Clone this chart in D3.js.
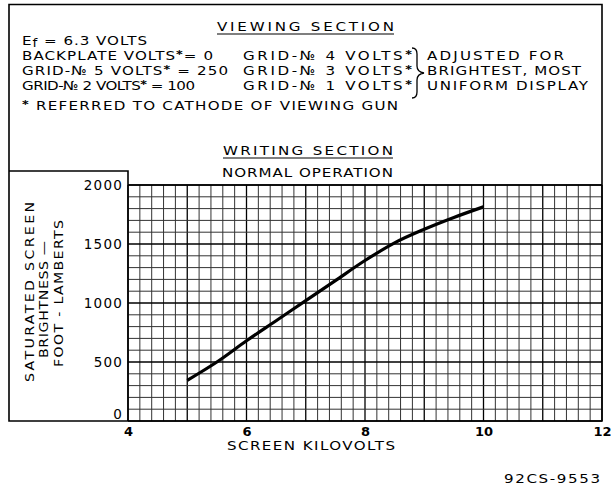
<!DOCTYPE html>
<html>
<head>
<meta charset="utf-8">
<script src="https://cdn.jsdelivr.net/npm/d3@7"></script>
<style>
  html, body { margin: 0; padding: 0; background: #fff; }
  svg { display: block; }
  text { font-family: "DejaVu Sans", sans-serif; fill: #000; }
</style>
</head>
<body>
<div id="chart"></div>
<script>
// screen kilovolts vs saturated screen brightness (foot-lamberts)
const kilovolts = [5.0, 5.5, 6.0, 6.5, 7.0, 7.5, 8.0, 8.5, 9.0, 9.5, 10.0];
const brightness = [345, 500, 680, 850, 1020, 1190, 1360, 1510, 1625, 1725, 1815];

const xTicks = [4, 6, 8, 10, 12];
const yTicks = [0, 500, 1000, 1500, 2000];

const W = 611, H = 488;
const plot = { left: 128, right: 602, top: 185, bottom: 421 };
const WIDE = 1.18; // lettering is wider than DejaVu, stretch it a bit

const svg = d3.select('#chart').append('svg')
    .attr('width', W)
    .attr('height', H);

const x = d3.scaleLinear().domain([4, 12]).range([plot.left, plot.right]);
const y = d3.scaleLinear().domain([0, 2000]).range([plot.bottom, plot.top]);

// grid: minor every 0.2 kV / 100 fL, heavier every 1 kV / 500 fL
const grid = svg.append('g').attr('class', 'grid');
d3.range(4, 12.001, 0.2).forEach(v => {
    const major = Math.abs(v - Math.round(v)) < 1e-6;
    grid.append('line')
        .attr('x1', x(v)).attr('x2', x(v))
        .attr('y1', plot.top).attr('y2', plot.bottom)
        .attr('stroke', major ? '#000' : '#333')
        .attr('stroke-width', major ? 1.3 : 1);
});
d3.range(0, 2001, 100).forEach(v => {
    const major = v % 500 === 0;
    grid.append('line')
        .attr('x1', plot.left).attr('x2', plot.right)
        .attr('y1', y(v)).attr('y2', y(v))
        .attr('stroke', major ? '#000' : '#333')
        .attr('stroke-width', major ? 1.3 : 1);
});

// frame around the whole drawing, plus the box for the y label
const frame = svg.append('g').attr('fill', 'none').attr('stroke', '#000').attr('stroke-width', 1.6);
frame.append('path')
    .attr('d', `M9,4.5 H${plot.right} V${plot.bottom} H9 Z`);
frame.append('path')
    .attr('d', `M9,171 H${plot.left} V${plot.bottom}`);
frame.append('line')
    .attr('x1', plot.left).attr('x2', plot.right)
    .attr('y1', plot.top).attr('y2', plot.top);

// axes (labels only, the grid does the lines)
const yAxis = svg.append('g')
    .attr('transform', `translate(${plot.left},0)`)
    .call(d3.axisLeft(y).tickValues(yTicks).tickFormat(d3.format('d')).tickSize(0).tickPadding(5));
yAxis.select('.domain').remove();
yAxis.selectAll('text')
    .attr('font-family', '"DejaVu Sans", sans-serif')
    .attr('font-size', 13.5)
    .attr('letter-spacing', 1.2)
    .attr('dy', d => d === 0 ? '-0.2em' : '0.36em');

const xAxis = svg.append('g')
    .attr('transform', `translate(0,${plot.bottom})`)
    .call(d3.axisBottom(x).tickValues(xTicks).tickSize(0).tickPadding(6));
xAxis.select('.domain').remove();
xAxis.selectAll('text')
    .attr('font-family', '"DejaVu Sans", sans-serif')
    .attr('font-size', 13)
    .attr('font-weight', 'bold');

// the curve
const line = d3.line()
    .x((d, i) => x(kilovolts[i]))
    .y(d => y(d))
    .curve(d3.curveMonotoneX);

svg.append('path')
    .datum(brightness)
    .attr('d', line)
    .attr('fill', 'none')
    .attr('stroke', '#000')
    .attr('stroke-width', 3.2);

// text helpers -------------------------------------------------------
function fit(sel, width) {
    const node = sel.node();
    const n = node.getNumberOfChars();
    const len = node.getComputedTextLength();
    if (n > 1) sel.attr('letter-spacing', (width - len) / (n - 1));
    return sel;
}

// "*" becomes a raised bold star; text is placed by transform so it can be stretched
function label(parent, str, px, py, width, size = 12.8, rot = 0) {
    const t = parent.append('text')
        .attr('transform', `translate(${px},${py}) rotate(${rot}) scale(${WIDE},1)`)
        .attr('font-size', size);
    str.split(/(\*)/).forEach(part => {
        if (part === '') return;
        if (part === '*') {
            t.append('tspan').text('*')
                .attr('font-weight', 'bold')
                .attr('font-size', size * 0.85)
                .attr('baseline-shift', '15%');
        } else {
            t.append('tspan').text(part);
        }
    });
    if (width) fit(t, width / WIDE);
    return t;
}

const notes = svg.append('g');

// viewing section
label(notes, 'VIEWING SECTION', 217, 31, 177);
notes.append('line').attr('x1', 217).attr('x2', 394).attr('y1', 34).attr('y2', 34)
    .attr('stroke', '#000').attr('stroke-width', 1.2);

const ef = notes.append('text')
    .attr('transform', `translate(22,44.8) scale(${WIDE},1)`)
    .attr('font-size', 12.8);
ef.append('tspan').text('E');
ef.append('tspan').text('f').attr('baseline-shift', '-12%').attr('font-size', 11.5);
ef.append('tspan').text(' = 6.3 VOLTS');
fit(ef, 125 / WIDE);

label(notes, 'BACKPLATE VOLTS*= 0', 22, 59.5, 191);
label(notes, 'GRID-№ 5 VOLTS* = 250', 22, 74.6, 206);
label(notes, 'GRID-№ 2 VOLTS* = 100', 22, 89.6, 173);

label(notes, 'GRID-№ 4 VOLTS*', 243, 59.5, 169);
label(notes, 'GRID-№ 3 VOLTS*', 243, 74.6, 169);
label(notes, 'GRID-№ 1 VOLTS*', 243, 89.6, 169);

notes.append('path')
    .attr('d', 'M412,48 Q417,48 417,54 V66 Q417,72 424,73 Q417,74 417,80 V92 Q417,98 412,98')
    .attr('fill', 'none').attr('stroke', '#000').attr('stroke-width', 1.3);

label(notes, 'ADJUSTED FOR', 427, 59.5, 137);
label(notes, 'BRIGHTEST, MOST', 427, 74.6, 154);
label(notes, 'UNIFORM DISPLAY', 427, 89.6, 161);

label(notes, '* REFERRED TO CATHODE OF VIEWING GUN', 22, 110, 376);

// writing section
label(notes, 'WRITING SECTION', 223, 155, 170);
notes.append('line').attr('x1', 223).attr('x2', 393).attr('y1', 158).attr('y2', 158)
    .attr('stroke', '#000').attr('stroke-width', 1.2);
label(notes, 'NORMAL OPERATION', 222, 177, 171);

// axis titles
label(notes, 'SCREEN  KILOVOLTS', 227, 450, 168);
label(notes, '92CS-9553', 504, 483, 96);

const yTitle = [
    { text: 'SATURATED  SCREEN', bx: 34, start: 382, w: 180 },
    { text: 'BRIGHTNESS —', bx: 48, start: 358, w: 117 },
    { text: 'FOOT - LAMBERTS', bx: 62.5, start: 367, w: 147 }
];
yTitle.forEach(d => {
    label(notes, d.text, d.bx, d.start, d.w, 12, -90);
});
</script>
</body>
</html>
